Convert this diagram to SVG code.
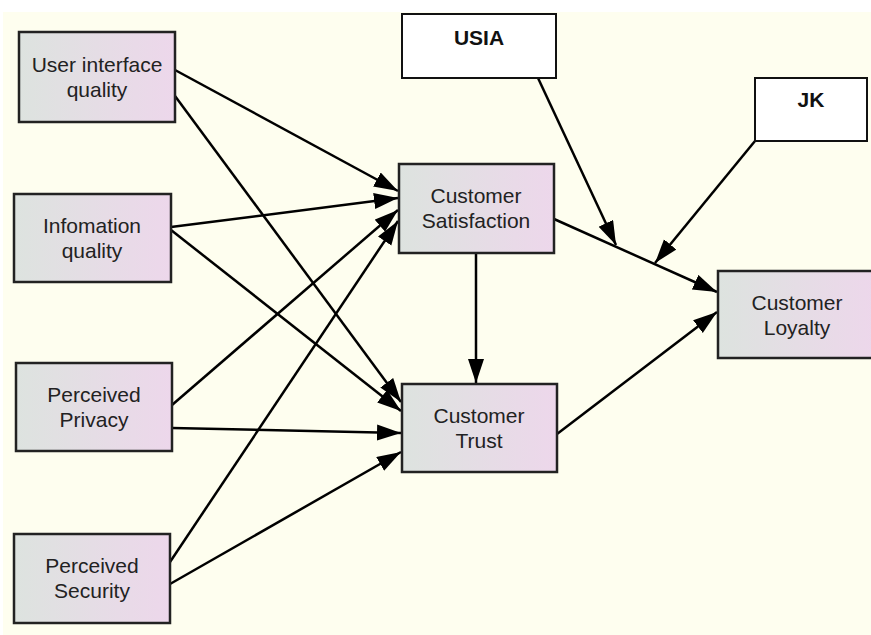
<svg xmlns="http://www.w3.org/2000/svg" width="871" height="635" viewBox="0 0 871 635">
  <defs>
    <linearGradient id="boxFill" x1="0" y1="0" x2="1" y2="0">
      <stop offset="0" stop-color="#dde3df"/>
      <stop offset="1" stop-color="#edd7eb"/>
    </linearGradient>
    <marker id="arrow" markerUnits="userSpaceOnUse" markerWidth="26" markerHeight="18" refX="24" refY="8" orient="auto">
      <path d="M0,0 L24,8 L0,16 Z" fill="#000"/>
    </marker>
    <style>
      .box { fill: url(#boxFill); stroke: #222; stroke-width: 2.5; }
      .plain { fill: #fff; stroke: #111; stroke-width: 2; }
      .label { font-family: "Liberation Sans", Arial, sans-serif; font-size: 21px; fill: #222; text-anchor: middle; }
      .tag { font-family: "Liberation Sans", Arial, sans-serif; font-size: 21px; font-weight: bold; fill: #111; text-anchor: middle; }
      .edge { stroke: #000; stroke-width: 2.5; fill: none; marker-end: url(#arrow); }
    </style>
  </defs>

  <!-- canvas -->
  <rect x="0" y="0" width="871" height="635" fill="#fff"/>
  <rect x="3" y="12" width="868" height="623" fill="#fefeef"/>

  <!-- connectors -->
  <g id="connectors">
    <line class="edge" x1="175" y1="70" x2="398" y2="191"/>
    <line class="edge" x1="175" y1="96" x2="401" y2="402"/>
    <line class="edge" x1="171" y1="227" x2="398" y2="198"/>
    <line class="edge" x1="171" y1="230" x2="401" y2="411"/>
    <line class="edge" x1="172" y1="405" x2="398" y2="210"/>
    <line class="edge" x1="172" y1="428" x2="401" y2="433"/>
    <line class="edge" x1="170" y1="562" x2="398" y2="221"/>
    <line class="edge" x1="170" y1="584" x2="401" y2="452"/>
    <line class="edge" x1="476" y1="253" x2="476" y2="383"/>
    <line class="edge" x1="554" y1="219" x2="717" y2="292"/>
    <line class="edge" x1="557" y1="434" x2="717" y2="312"/>
    <line class="edge" x1="538" y1="78" x2="616" y2="245"/>
    <line class="edge" x1="755" y1="141" x2="655" y2="263"/>
  </g>

  <g id="user-interface-quality">
    <rect class="box" x="19" y="32" width="156" height="90"/>
    <text class="label" x="97" y="72">User interface</text>
    <text class="label" x="97" y="97">quality</text>
  </g>

  <g id="information-quality">
    <rect class="box" x="14" y="194" width="157" height="88"/>
    <text class="label" x="92" y="233">Infomation</text>
    <text class="label" x="92" y="258">quality</text>
  </g>

  <g id="perceived-privacy">
    <rect class="box" x="16" y="363" width="156" height="88"/>
    <text class="label" x="94" y="402">Perceived</text>
    <text class="label" x="94" y="427">Privacy</text>
  </g>

  <g id="perceived-security">
    <rect class="box" x="14" y="534" width="156" height="89"/>
    <text class="label" x="92" y="573">Perceived</text>
    <text class="label" x="92" y="598">Security</text>
  </g>

  <g id="customer-satisfaction">
    <rect class="box" x="399" y="164" width="155" height="89"/>
    <text class="label" x="476" y="203">Customer</text>
    <text class="label" x="476" y="228">Satisfaction</text>
  </g>

  <g id="customer-trust">
    <rect class="box" x="402" y="384" width="155" height="88"/>
    <text class="label" x="479" y="423">Customer</text>
    <text class="label" x="479" y="448">Trust</text>
  </g>

  <g id="customer-loyalty">
    <rect class="box" x="718" y="271" width="158" height="87"/>
    <text class="label" x="797" y="310">Customer</text>
    <text class="label" x="797" y="335">Loyalty</text>
  </g>

  <g id="usia">
    <rect class="plain" x="402" y="14" width="154" height="64"/>
    <text class="tag" x="479" y="45">USIA</text>
  </g>

  <g id="jk">
    <rect class="plain" x="755" y="78" width="112" height="63"/>
    <text class="tag" x="811" y="107">JK</text>
  </g>
</svg>
